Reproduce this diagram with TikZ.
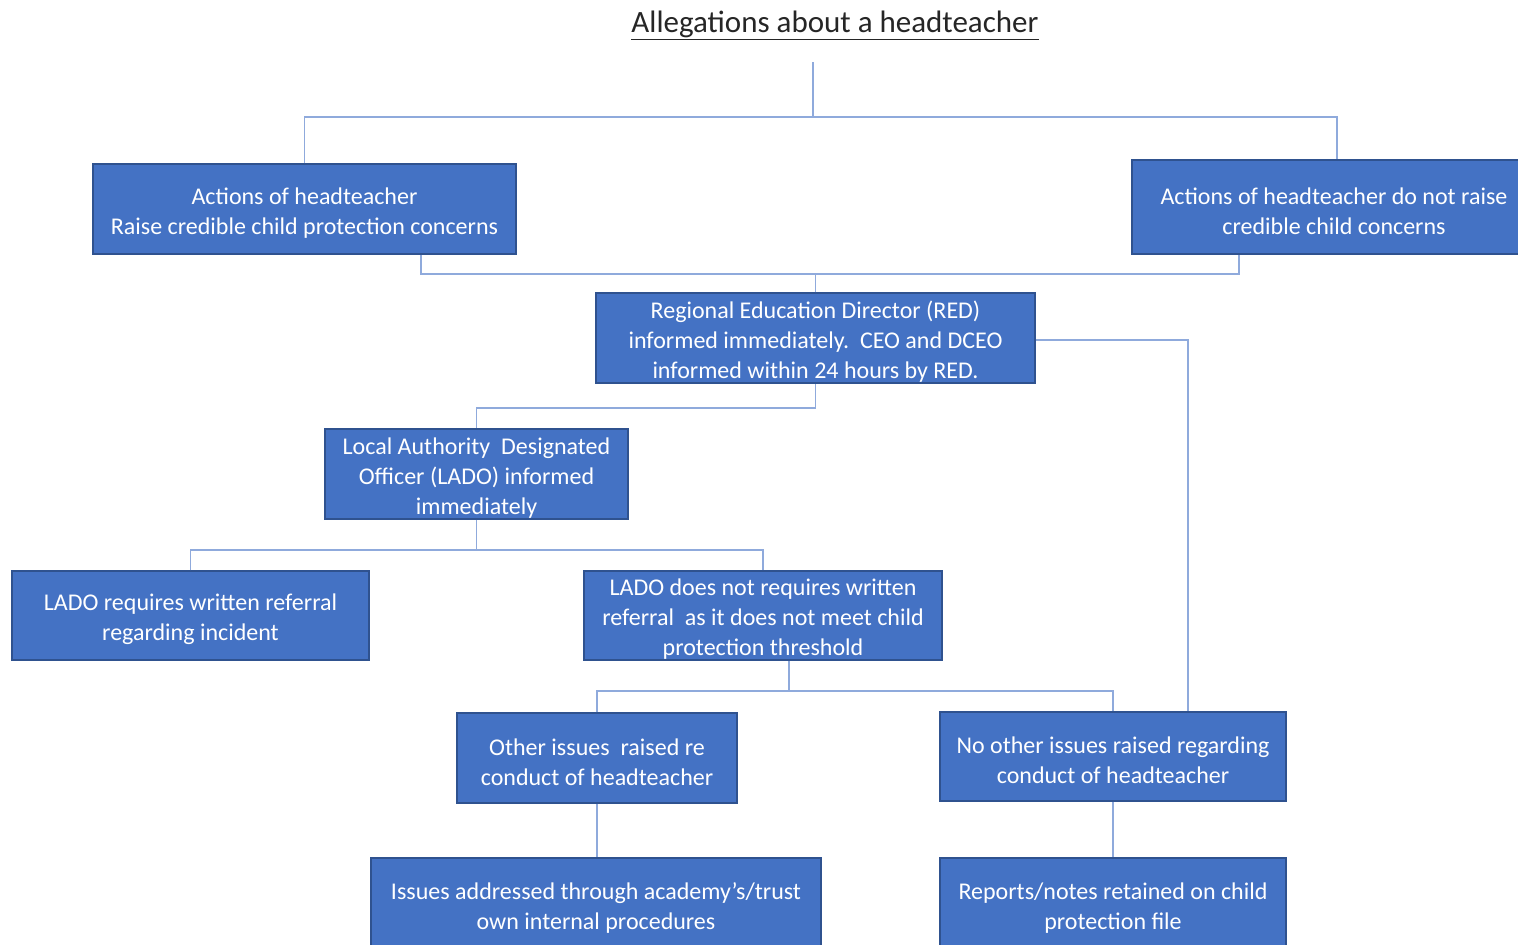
\documentclass[tikz,border=0pt]{standalone}
\usepackage{fontspec}
\setmainfont{Carlito}
\definecolor{boxfill}{HTML}{4472C4}
\definecolor{boxline}{HTML}{2F528F}
\definecolor{connc}{HTML}{8FAADC}
\definecolor{titlec}{HTML}{262626}
\newcommand{\boxstrut}{\rule{0pt}{24.5pt}}
\begin{document}
\begin{tikzpicture}[x=1pt,y=-1pt,
  box/.style={draw=boxline, line width=1.5pt, fill=boxfill, text=white,
    font=\fontsize{24}{30}\selectfont, align=center, inner sep=0pt},
  conn/.style={draw=connc, line width=1.6pt}]
\clip (0,0) rectangle (1518,945);
\fill[white] (0,0) rectangle (1518,945);

\node[text=titlec, font=\fontsize{31}{36}\selectfont] (title) at (835,25) {\underline{Allegations about a headteacher}};

\node[box, minimum width=423pt, minimum height=90pt] (B1) at (304.5,209)
  {\boxstrut Actions of headteacher\\Raise credible child protection concerns};
\node[box, minimum width=404pt, minimum height=94pt] (B2) at (1334,207)
  {\boxstrut Actions of headteacher do not raise\\credible child concerns};
\node[box, minimum width=439pt, minimum height=90pt] (RED) at (815.5,338)
  {\boxstrut Regional Education Director (RED)\\informed immediately.\ \ CEO and DCEO\\informed within 24 hours by RED.};
\node[box, minimum width=303pt, minimum height=90pt] (LADO) at (476.5,474)
  {\boxstrut Local Authority\ \ Designated\\Officer (LADO) informed\\immediately};
\node[box, minimum width=357pt, minimum height=89pt] (L1) at (190.5,615.5)
  {\boxstrut LADO\ requires written referral\\regarding incident};
\node[box, minimum width=358pt, minimum height=89pt] (L2) at (763,615.5)
  {\boxstrut LADO does not requires written\\referral\ \ as it does not meet child\\protection threshold};
\node[box, minimum width=280pt, minimum height=90pt] (O1) at (597,758)
  {\boxstrut Other issues\ \ raised re\\conduct of headteacher};
\node[box, minimum width=346pt, minimum height=89pt] (O2) at (1113,756.5)
  {\boxstrut No other issues raised regarding\\conduct of headteacher};
\node[box, minimum width=450pt, minimum height=92pt] (I1) at (596,904)
  {\boxstrut Issues addressed through academy’s/trust\\own internal procedures};
\node[box, minimum width=346pt, minimum height=92pt] (I2) at (1113,904)
  {\boxstrut Reports/notes retained on child\\protection file};

\coordinate (top) at (813,62);
\draw[conn] (top) -- (813,117) coordinate (j1);
\draw[conn] (B1.north) |- (j1) -| ([xshift=3pt]B2.north);

\draw[conn] ([xshift=116.5pt]B1.south) -- ++(0,19) coordinate (j2) -| ([xshift=-95pt]B2.south);
\draw[conn] (RED.north) -- (RED.north |- j2);

\draw[conn] ([yshift=-2pt]RED.east) -| ([xshift=75pt]O2.north);

\draw[conn] (RED.south) -- ++(0,24) -| (LADO.north);

\draw[conn] (LADO.south) -- ++(0,30) coordinate (j3);
\draw[conn] (L1.north) |- (j3) -| (L2.north);

\draw[conn] ([xshift=26pt]L2.south) -- ++(0,30) coordinate (j4);
\draw[conn] (O1.north) |- (j4) -| (O2.north);

\draw[conn] (O1.south) -- (O1.south |- I1.north);
\draw[conn] (O2.south) -- (O2.south |- I2.north);
\end{tikzpicture}
\end{document}
